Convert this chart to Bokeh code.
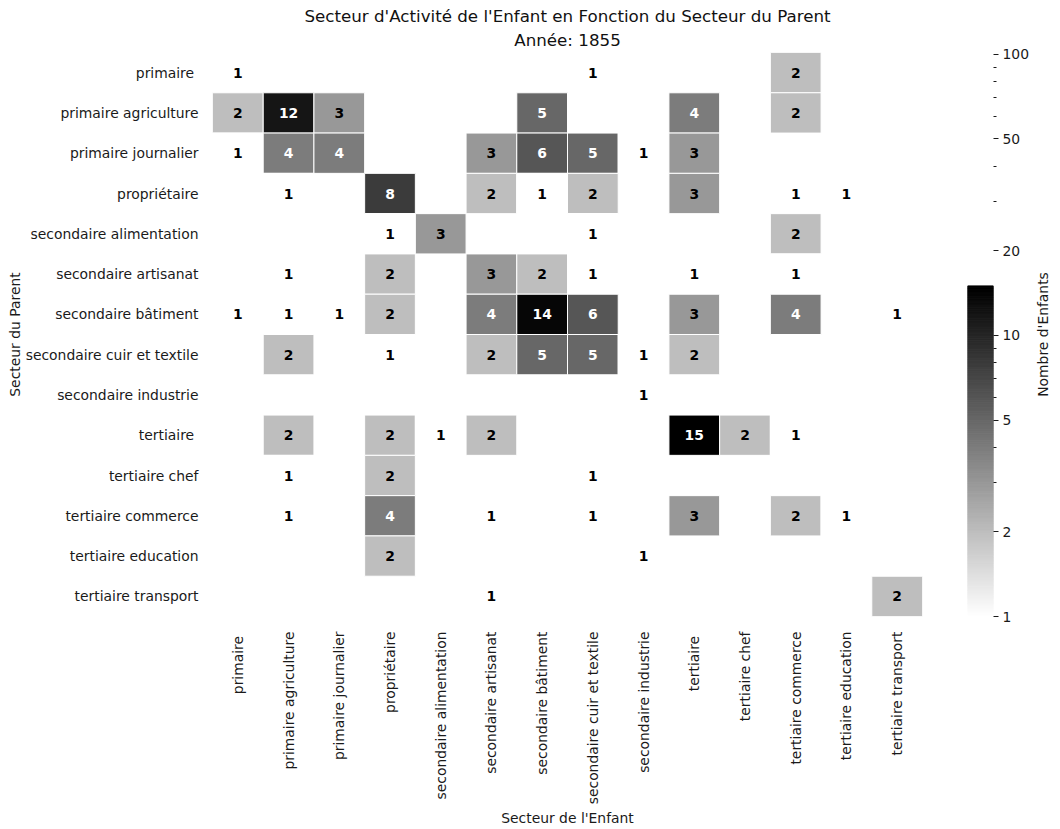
from math import pi, log

import numpy as np
from bokeh.core.properties import value
from bokeh.embed import file_html
from bokeh.layouts import row
from bokeh.models import (ColumnDataSource, FixedTicker, LogColorMapper,
                          NumeralTickFormatter, Title)
from bokeh.plotting import figure
from bokeh.resources import INLINE
from bokeh.transform import transform

title_main = "Secteur d'Activité de l'Enfant en Fonction du Secteur du Parent"
title_sub = "Année: 1855"
x_label = "Secteur de l'Enfant"
y_label = "Secteur du Parent"
cbar_label = "Nombre d'Enfants"

# same categories on both axes
sectors = [
    "primaire ",
    "primaire agriculture",
    "primaire journalier",
    "propriétaire",
    "secondaire alimentation",
    "secondaire artisanat",
    "secondaire bâtiment",
    "secondaire cuir et textile",
    "secondaire industrie",
    "tertiaire ",
    "tertiaire chef",
    "tertiaire commerce",
    "tertiaire education",
    "tertiaire transport",
]

_ = None
# rows = parent sector, columns = child sector
counts = [
    [1, _, _, _, _, _, _, 1, _, _, _, 2, _, _],
    [2, 12, 3, _, _, _, 5, _, _, 4, _, 2, _, _],
    [1, 4, 4, _, _, 3, 6, 5, 1, 3, _, _, _, _],
    [_, 1, _, 8, _, 2, 1, 2, _, 3, _, 1, 1, _],
    [_, _, _, 1, 3, _, _, 1, _, _, _, 2, _, _],
    [_, 1, _, 2, _, 3, 2, 1, _, 1, _, 1, _, _],
    [1, 1, 1, 2, _, 4, 14, 6, _, 3, _, 4, _, 1],
    [_, 2, _, 1, _, 2, 5, 5, 1, 2, _, _, _, _],
    [_, _, _, _, _, _, _, _, 1, _, _, _, _, _],
    [_, 2, _, 2, 1, 2, _, _, _, 15, 2, 1, _, _],
    [_, 1, _, 2, _, _, _, 1, _, _, _, _, _, _],
    [_, 1, _, 4, _, 1, _, 1, _, 3, _, 2, 1, _],
    [_, _, _, 2, _, _, _, _, 1, _, _, _, _, _],
    [_, _, _, _, _, 1, _, _, _, _, _, _, _, 2],
]

# colour bar axis (log), drawn up to ~100 like the original
cbar_ticks = [1, 2, 5, 10, 20, 50, 100]
cbar_minor = [3, 4, 6, 7, 8, 9, 30, 40, 60, 70, 80, 90]
cbar_top = 101.5

FONT = "DejaVu Sans"
TXT = "#1a1a1a"
H = 829
TOP, BOTTOM = 52, 212

vmax = max(v for r in counts for v in r if v is not None)
palette = ["#%02x%02x%02x" % (255 - i, 255 - i, 255 - i) for i in range(256)]
mapper = LogColorMapper(palette=palette, low=1, high=vmax)

child, parent, cnt, lbl, tcol = [], [], [], [], []
for i, r in enumerate(counts):
    for j, v in enumerate(r):
        if v is None:
            continue
        parent.append(sectors[i])
        child.append(sectors[j])
        cnt.append(v)
        lbl.append(str(v))
        tcol.append("white" if log(v) / log(vmax) > 0.5 else "black")

src = ColumnDataSource(dict(child=child, parent=parent, count=cnt, label=lbl, tcolor=tcol))

p = figure(
    x_range=sectors,
    y_range=list(reversed(sectors)),
    width=948,
    height=H,
    min_border_left=212,
    min_border_right=26,
    min_border_top=TOP,
    min_border_bottom=BOTTOM,
    title=None,
    tools="",
    toolbar_location=None,
    output_backend="svg",
)

p.rect(x="child", y="parent", width=1, height=1, source=src,
       fill_color=transform("count", mapper), line_color="white", line_width=1)
p.text(x="child", y="parent", text="label", source=src, text_color="tcolor",
       text_align="center", text_baseline="middle", text_font=value(FONT),
       text_font_size="13.9px", text_font_style="bold")

p.add_layout(Title(text=title_sub, align="center", text_font=FONT, text_font_size="16.7px",
                   text_font_style="normal", text_color="#111111", standoff=5, offset=0), "above")
p.add_layout(Title(text=title_main, align="center", text_font=FONT, text_font_size="16.7px",
                   text_font_style="normal", text_color="#111111", standoff=0, offset=0), "above")

p.grid.grid_line_color = None
p.outline_line_color = None
for ax in (p.xaxis[0], p.yaxis[0]):
    ax.axis_line_color = None
    ax.major_tick_line_color = None
    ax.minor_tick_line_color = None
    ax.major_label_text_font = FONT
    ax.major_label_text_font_size = "13.9px"
    ax.major_label_text_color = TXT
    ax.axis_label_text_font = FONT
    ax.axis_label_text_font_size = "13.9px"
    ax.axis_label_text_font_style = "normal"
    ax.axis_label_text_color = TXT

p.xaxis.axis_label = x_label
p.xaxis.major_label_orientation = pi / 2
p.xaxis.major_label_standoff = 9
p.xaxis.axis_label_standoff = 3
p.yaxis.axis_label = y_label
p.yaxis.major_label_standoff = 8
p.yaxis.axis_label_standoff = 0

# colour bar as its own small log-scaled figure
cb = figure(
    width=87,
    height=H,
    x_range=(0, 1),
    y_range=(1, cbar_top),
    y_axis_type="log",
    y_axis_location="right",
    x_axis_location=None,
    min_border_left=19,
    min_border_right=42,
    min_border_top=TOP,
    min_border_bottom=BOTTOM,
    tools="",
    toolbar_location=None,
    output_backend="svg",
)
edges = np.logspace(0, np.log10(vmax), len(palette) + 1)
cb.quad(left=0, right=1, bottom=edges[:-1], top=edges[1:], fill_color=palette,
        line_color=palette, line_width=1)
cb.grid.grid_line_color = None
cb.outline_line_color = None

cax = cb.yaxis[0]
cax.ticker = FixedTicker(ticks=cbar_ticks, minor_ticks=cbar_minor)
cax.formatter = NumeralTickFormatter(format="0")
cax.axis_line_color = None
cax.major_tick_in = 0
cax.major_tick_out = 5
cax.minor_tick_in = 0
cax.minor_tick_out = 3
cax.major_tick_line_color = TXT
cax.minor_tick_line_color = TXT
cax.major_label_text_font = FONT
cax.major_label_text_font_size = "13.9px"
cax.major_label_text_color = TXT
cax.major_label_standoff = 4

# rotated colour bar title, reading bottom to top
lab = figure(
    width=20,
    height=H,
    x_range=(0, 1),
    y_range=(0, 1),
    x_axis_location=None,
    y_axis_location=None,
    min_border_left=0,
    min_border_right=0,
    min_border_top=TOP,
    min_border_bottom=BOTTOM,
    tools="",
    toolbar_location=None,
    output_backend="svg",
)
lab.text(x=[0.35], y=[0.5], text=[cbar_label], angle=pi / 2, text_align="center",
         text_baseline="middle", text_font=value(FONT), text_font_size="13.9px",
         text_color=TXT)
lab.grid.grid_line_color = None
lab.outline_line_color = None

layout = row(p, cb, lab)

open("out.html", "w").write(file_html(layout, INLINE))
